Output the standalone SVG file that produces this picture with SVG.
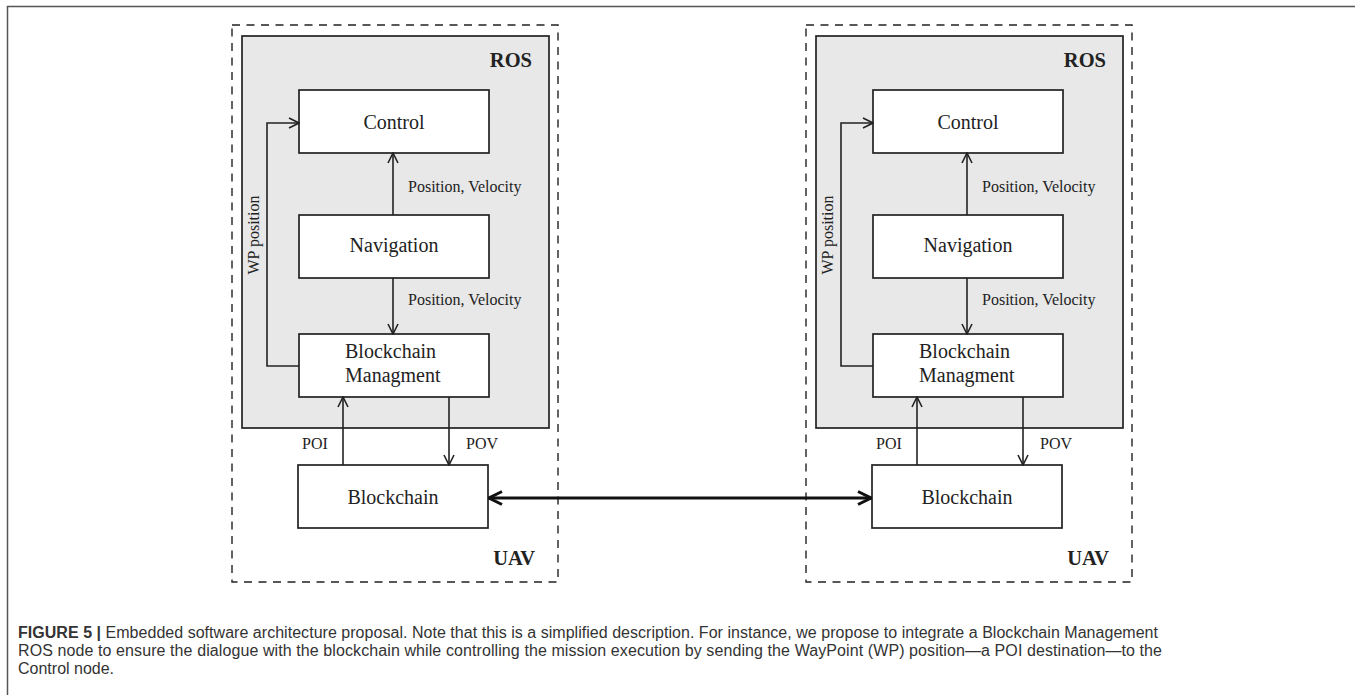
<svg xmlns="http://www.w3.org/2000/svg" width="1355" height="695" viewBox="0 0 1355 695">
<style>
.frame{fill:none;stroke:#555;stroke-width:1.5}
.uav{fill:none;stroke:#222;stroke-width:1.4;stroke-dasharray:8 6.5}
.ros{fill:#e8e8e8;stroke:#222;stroke-width:1.7}
.box{fill:#fff;stroke:#222;stroke-width:1.7}
.node{font-family:"Liberation Serif",serif;font-size:20px;fill:#222}
.title{font-family:"Liberation Serif",serif;font-size:20.5px;font-weight:bold;fill:#222}
.small{font-family:"Liberation Serif",serif;font-size:16px;fill:#222}
.conn{fill:none;stroke:#222;stroke-width:1.6}
.thick{fill:none;stroke:#111;stroke-width:3}
.cap{font-family:"Liberation Sans",Arial,sans-serif;font-size:16px;fill:#333}
</style>
<defs>
<marker id="ah" viewBox="-11 -6 12 12" refX="0" refY="0" markerWidth="12" markerHeight="12" markerUnits="userSpaceOnUse" orient="auto">
<path d="M-10,-5 L0,0 L-10,5" fill="none" stroke="#222" stroke-width="1.6"/>
</marker>
<marker id="ahb" viewBox="-15 -8 16 16" refX="0" refY="0" markerWidth="16" markerHeight="16" markerUnits="userSpaceOnUse" orient="auto-start-reverse">
<path d="M-13,-6.5 L0,0 L-13,6.5" fill="none" stroke="#111" stroke-width="3"/>
</marker>
</defs>
<rect width="1355" height="695" fill="#fff"/>
<path class="frame" d="M7.5,695 V6.5 H1355"/>

<!-- Left UAV -->
<g id="uav-left">
<rect class="uav" x="232" y="25" width="326" height="557"/>
<text class="title" x="535" y="565" text-anchor="end">UAV</text>
</g>
<g id="ros-left">
<rect class="ros" x="242" y="36" width="307" height="392"/>
<text class="title" x="532" y="67" text-anchor="end">ROS</text>
</g>
<g id="control-left">
<rect class="box" x="299" y="90" width="190" height="63"/>
<text class="node" x="394" y="129" text-anchor="middle">Control</text>
</g>
<g id="navigation-left">
<rect class="box" x="299" y="215" width="190" height="63"/>
<text class="node" x="394" y="252" text-anchor="middle">Navigation</text>
</g>
<g id="bcmgmt-left">
<rect class="box" x="299" y="334" width="190" height="63"/>
<text class="node" x="345" y="358">Blockchain</text>
<text class="node" x="345" y="382">Managment</text>
</g>
<g id="blockchain-left">
<rect class="box" x="298" y="465" width="190" height="63"/>
<text class="node" x="393" y="504" text-anchor="middle">Blockchain</text>
</g>

<!-- Right UAV -->
<g id="uav-right">
<rect class="uav" x="806" y="25" width="326" height="557"/>
<text class="title" x="1109" y="565" text-anchor="end">UAV</text>
</g>
<g id="ros-right">
<rect class="ros" x="816" y="36" width="307" height="392"/>
<text class="title" x="1106" y="67" text-anchor="end">ROS</text>
</g>
<g id="control-right">
<rect class="box" x="873" y="90" width="190" height="63"/>
<text class="node" x="968" y="129" text-anchor="middle">Control</text>
</g>
<g id="navigation-right">
<rect class="box" x="873" y="215" width="190" height="63"/>
<text class="node" x="968" y="252" text-anchor="middle">Navigation</text>
</g>
<g id="bcmgmt-right">
<rect class="box" x="873" y="334" width="190" height="63"/>
<text class="node" x="919" y="358">Blockchain</text>
<text class="node" x="919" y="382">Managment</text>
</g>
<g id="blockchain-right">
<rect class="box" x="872" y="465" width="190" height="63"/>
<text class="node" x="967" y="504" text-anchor="middle">Blockchain</text>
</g>

<!-- Connectors -->
<g id="connectors">
<path class="conn" d="M393,215 V153" marker-end="url(#ah)"/>
<path class="conn" d="M393,278 V334" marker-end="url(#ah)"/>
<path class="conn" d="M299,366 H267 V123 H299" marker-end="url(#ah)"/>
<path class="conn" d="M343,465 V397" marker-end="url(#ah)"/>
<path class="conn" d="M449,397 V465" marker-end="url(#ah)"/>
<path class="conn" d="M967,215 V153" marker-end="url(#ah)"/>
<path class="conn" d="M967,278 V334" marker-end="url(#ah)"/>
<path class="conn" d="M873,366 H841 V123 H873" marker-end="url(#ah)"/>
<path class="conn" d="M917,465 V397" marker-end="url(#ah)"/>
<path class="conn" d="M1023,397 V465" marker-end="url(#ah)"/>
<path class="thick" d="M489,498 H871" marker-start="url(#ahb)" marker-end="url(#ahb)"/>
<text class="small" x="408" y="192">Position, Velocity</text>
<text class="small" x="408" y="305">Position, Velocity</text>
<text class="small" font-size="17" transform="translate(259,235) rotate(-90)" text-anchor="middle">WP position</text>
<text class="small" x="302" y="449">POI</text>
<text class="small" x="466" y="449">POV</text>
<text class="small" x="982" y="192">Position, Velocity</text>
<text class="small" x="982" y="305">Position, Velocity</text>
<text class="small" font-size="17" transform="translate(833,235) rotate(-90)" text-anchor="middle">WP position</text>
<text class="small" x="876" y="449">POI</text>
<text class="small" x="1040" y="449">POV</text>
</g>

<!-- Caption -->
<g id="caption">
<text class="cap" x="18" y="638" textLength="1140" lengthAdjust="spacing"><tspan font-weight="bold">FIGURE 5 |</tspan> Embedded software architecture proposal. Note that this is a simplified description. For instance, we propose to integrate a Blockchain Management</text>
<text class="cap" x="18" y="656" textLength="1144" lengthAdjust="spacing">ROS node to ensure the dialogue with the blockchain while controlling the mission execution by sending the WayPoint (WP) position—a POI destination—to the</text>
<text class="cap" x="18" y="674">Control node.</text>
</g>
</svg>
